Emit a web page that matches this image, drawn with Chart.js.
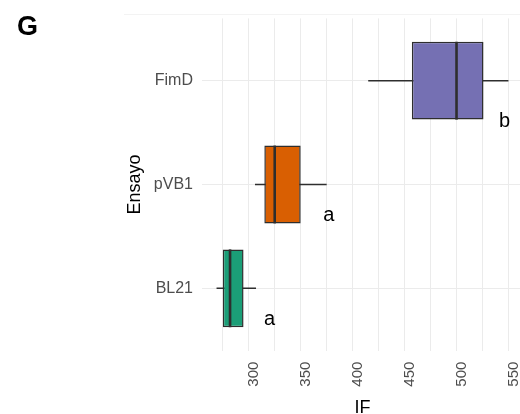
<!DOCTYPE html>
<html>
<head>
<meta charset="utf-8">
<script src="https://cdn.jsdelivr.net/npm/chart.js@4.4.1/dist/chart.umd.min.js"></script>
<style>
  html, body { margin: 0; padding: 0; background: #fff; width: 520px; height: 414px; overflow: hidden; }
  #wrap { position: relative; width: 523px; height: 420px; }
  #tag { position: absolute; left: 17px; top: 11px; font: bold 27px "Liberation Sans", Arial, sans-serif; color: #000; }
  #rule { position: absolute; left: 124px; right: 0; top: 14px; height: 1px; background: #f3f3f3; }
  canvas { display: block; }
</style>
</head>
<body>
<div id="wrap">
  <canvas id="chart" width="523" height="420"></canvas>
  <div id="rule"></div>
  <div id="tag">G</div>
</div>
<script>
// Groups, bottom to top
const categories = ['BL21', 'pVB1', 'FimD'];
// Box-plot summaries of IF per group
const whiskerLow  = [269, 306, 415];
const q1          = [275, 315, 457];
const median      = [282, 325, 500];
const q3          = [295, 350, 526];
const whiskerHigh = [307, 375, 550];
// Significance groups
const groupLetters = ['a', 'a', 'b'];
// x-axis tick positions (labels on every second one)
const xTicks = [275, 300, 325, 350, 375, 400, 425, 450, 475, 500, 525, 550];

const boxColors = ['#1B9E77', '#D95F02', '#7570B3'];
const ink = '#2e2e2e';
// letter placement relative to the box's right edge (px) and the group centre (px)
const letterDx = [26, 28, 21];
const letterDy = [37, 36, 46];

Chart.defaults.font.family = '"Liberation Sans", Arial, sans-serif';

const boxData = categories.map((c, i) => ({ x: [q1[i], q3[i]], y: i }));
const whiskerData = categories.map((c, i) => ({ x: [whiskerLow[i], whiskerHigh[i]], y: i }));

const medianAndLetters = {
  id: 'medianAndLetters',
  afterDatasetsDraw(chart) {
    const { ctx, scales: { x, y } } = chart;
    const boxes = chart.getDatasetMeta(0).data;
    ctx.save();
    ctx.strokeStyle = ink;
    ctx.lineWidth = 2.6;
    boxes.forEach((bar, i) => {
      const px = x.getPixelForValue(median[i]);
      const half = bar.height / 2;
      ctx.beginPath();
      ctx.moveTo(px, bar.y - half);
      ctx.lineTo(px, bar.y + half);
      ctx.stroke();
    });
    ctx.fillStyle = '#000';
    ctx.font = '20px "Liberation Sans", Arial, sans-serif';
    ctx.textAlign = 'center';
    ctx.textBaseline = 'alphabetic';
    groupLetters.forEach((t, i) => {
      const px = x.getPixelForValue(q3[i]) + letterDx[i];
      const py = y.getPixelForValue(i) + letterDy[i];
      ctx.fillText(t, px, py);
    });
    ctx.restore();
  }
};

new Chart(document.getElementById('chart'), {
  type: 'bar',
  data: {
    datasets: [
      {
        data: boxData,
        backgroundColor: boxColors,
        borderColor: ink,
        borderWidth: 1.5,
        borderSkipped: false,
        grouped: false,
        categoryPercentage: 1,
        barPercentage: 0.75
      },
      {
        data: whiskerData,
        backgroundColor: ink,
        borderWidth: 0,
        grouped: false,
        categoryPercentage: 1,
        barPercentage: 0.75,
        maxBarThickness: 1.5
      }
    ]
  },
  options: {
    indexAxis: 'y',
    responsive: false,
    animation: false,
    layout: { padding: { top: 18.4, left: 0, right: 0, bottom: 0 } },
    plugins: { legend: { display: false }, tooltip: { enabled: false } },
    scales: {
      x: {
        type: 'linear',
        min: 255,
        max: 564,
        afterBuildTicks: s => { s.ticks = xTicks.map(v => ({ value: v })); },
        afterFit: s => { s.height = 420 - 350.6; s.paddingLeft = 0; s.paddingRight = 0; },
        border: { display: false },
        grid: { color: '#ebebeb', lineWidth: 1, drawTicks: false },
        ticks: {
          autoSkip: false,
          minRotation: 90,
          maxRotation: 90,
          padding: 11,
          labelOffset: 5,
          color: '#4d4d4d',
          font: { size: 15 },
          callback: v => (v % 50 === 0 ? String(v) : '')
        },
        title: {
          display: true,
          text: 'IF',
          color: '#000',
          font: { size: 18 },
          padding: { top: 0, bottom: 1 }
        }
      },
      y: {
        type: 'linear',
        min: -0.6,
        max: 2.6,
        offset: false,
        afterBuildTicks: s => { s.ticks = categories.map((c, i) => ({ value: i })); },
        afterFit: s => { s.width = 202; s.paddingTop = 0; s.paddingBottom = 0; },
        border: { display: false },
        grid: { color: '#ebebeb', lineWidth: 1, drawTicks: false, offset: false },
        ticks: {
          padding: 9,
          color: '#4d4d4d',
          font: { size: 16 },
          callback: v => categories[v]
        },
        title: {
          display: true,
          text: 'Ensayo',
          color: '#000',
          font: { size: 18 },
          padding: { top: 124, bottom: 0 }
        }
      }
    }
  },
  plugins: [medianAndLetters]
});
</script>
</body>
</html>
